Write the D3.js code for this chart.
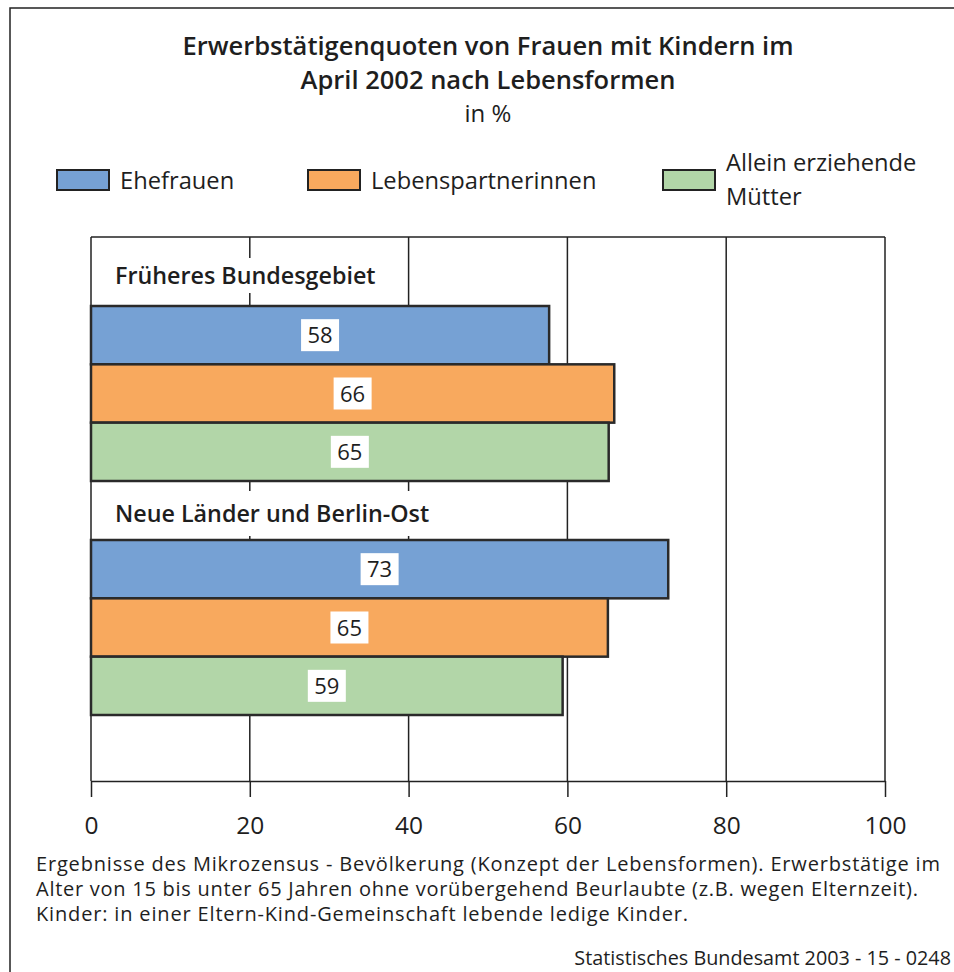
<!DOCTYPE html>
<html><head><meta charset="utf-8">
<script src="https://cdn.jsdelivr.net/npm/d3@7"></script>
<style>body{margin:0;background:#fff}text{font-family:"Open Sans",sans-serif;fill:#1e1e1e}</style>
</head><body><svg id="c" width="954" height="972"></svg>
<script>
const titleLines = ["Erwerbstätigenquoten von Frauen mit Kindern im", "April 2002 nach Lebensformen"];
const subtitle = "in %";
const groups = ["Früheres Bundesgebiet", "Neue Länder und Berlin-Ost"];
const series = ["Ehefrauen", "Lebenspartnerinnen", "Allein erziehende Mütter"];
const ehefrauen = [57.7, 72.7];
const lebenspartnerinnen = [65.9, 65.1];
const alleinErziehende = [65.2, 59.4];
const xTicks = [0, 20, 40, 60, 80, 100];
const colors = ["#76a1d4", "#f8a95e", "#b2d6a8"];
const footnote = ["Ergebnisse des Mikrozensus - Bevölkerung (Konzept der Lebensformen). Erwerbstätige im",
  "Alter von 15 bis unter 65 Jahren ohne vorübergehend Beurlaubte (z.B. wegen Elternzeit).",
  "Kinder: in einer Eltern-Kind-Gemeinschaft lebende ledige Kinder."];
const source = "Statistisches Bundesamt 2003 - 15 - 0248";

const values = [ehefrauen, lebenspartnerinnen, alleinErziehende];
const svg = d3.select("#c");
const plotTop = 237, plotBottom = 781;
const x = d3.scaleLinear().domain([0, 100]).range([91, 885]);
const yGroup = d3.scaleBand().domain(groups).range([247, 715]);
const headerH = 59;
const ySeries = d3.scaleBand().domain(series).range([headerH, yGroup.bandwidth()]);

// outer frame
svg.append("path").attr("d", "M10,972V8H954").attr("fill", "none").attr("stroke", "#222").attr("stroke-width", 1.5);

// title
const t = svg.append("g").attr("text-anchor", "middle");
t.selectAll("text.tl").data(titleLines).join("text").attr("class","tl")
  .attr("x", 488).attr("y", (d, i) => 55 + i * 34).attr("font-size", 25.5).attr("font-weight", 600).text(d => d);
t.append("text").attr("x", 488).attr("y", 122).attr("font-size", 24).text(subtitle);

// legend
const legend = [
  {sx: 57, lines: ["Ehefrauen"]},
  {sx: 308, lines: ["Lebenspartnerinnen"]},
  {sx: 663, lines: ["Allein erziehende", "Mütter"]}
];
legend.forEach((l, i) => {
  svg.append("rect").attr("x", l.sx).attr("y", 170).attr("width", 52).attr("height", 20)
    .attr("fill", colors[i]).attr("stroke", "#222").attr("stroke-width", 2);
  l.lines.forEach((s, j) => svg.append("text").attr("x", l.sx + 63)
    .attr("y", l.lines.length === 1 ? 189 : 171 + j * 34).attr("font-size", 23.7).text(s));
});

// grid
svg.selectAll("line.grid").data(xTicks).join("line").attr("class", "grid")
  .attr("x1", d => x(d)).attr("x2", d => x(d)).attr("y1", plotTop).attr("y2", plotBottom)
  .attr("stroke", "#222").attr("stroke-width", 1.5);
svg.append("line").attr("x1", x(0)).attr("x2", x(100)).attr("y1", plotTop).attr("y2", plotTop).attr("stroke", "#222").attr("stroke-width", 1.5);

// group headers with white background
const gh = svg.selectAll("g.gh").data(groups).join("g").attr("class", "gh");
gh.each(function(g, i) {
  const sel = d3.select(this);
  const yc = yGroup(g) + (i === 0 ? 29 : 33);
  const txt = sel.append("text").attr("x", 115).attr("y", yc + 8).attr("font-size", 23.3).attr("font-weight", 600).text(g);
  const bb = txt.node().getBBox();
  sel.insert("rect", "text").attr("x", bb.x - 4).attr("y", yc - (i === 0 ? 18 : 23)).attr("width", bb.width + 8).attr("height", i === 0 ? 35 : 45).attr("fill", "#fff");
});

// bars
groups.forEach((g, gi) => {
  series.forEach((s, si) => {
    const v = values[si][gi];
    const y0 = yGroup(g) + ySeries(s);
    svg.append("rect").attr("x", x(0)).attr("y", y0).attr("width", x(v) - x(0)).attr("height", ySeries.bandwidth())
      .attr("fill", colors[si]).attr("stroke", "#2a2a2a").attr("stroke-width", 2.5);
    const cx = (x(0) + x(v)) / 2, cy = y0 + ySeries.bandwidth() / 2;
    const lbl = d3.format(".0f")(v);
    const lt = svg.append("text").attr("x", cx).attr("y", cy + 8).attr("text-anchor", "middle").attr("font-size", 22).text(lbl);
    svg.insert("rect", () => lt.node()).attr("x", cx - 19).attr("y", cy - 16).attr("width", 38).attr("height", 32).attr("fill", "#fff");
  });
});

// axis
const ax = svg.append("g").attr("transform", `translate(0,${plotBottom})`)
  .call(d3.axisBottom(x).tickValues(xTicks).tickSize(16).tickPadding(20).tickSizeOuter(0));
ax.select(".domain").attr("stroke", "#222").attr("stroke-width", 1.5);
ax.selectAll(".tick line").attr("stroke", "#222").attr("stroke-width", 1.5);
ax.selectAll(".tick text").attr("font-size", 24.5).attr("font-family", "Open Sans").attr("fill", "#1e1e1e");

// footnote
const fnLen = [904, 882, 652];
svg.selectAll("text.fn").data(footnote).join("text").attr("class", "fn")
  .attr("x", 36).attr("y", (d, i) => 871 + i * 25).attr("font-size", 20)
  .attr("textLength", (d, i) => fnLen[i]).attr("lengthAdjust", "spacing").text(d => d);
svg.append("text").attr("x", 951).attr("y", 965).attr("text-anchor", "end").attr("font-size", 19.8).text(source);
</script></body></html>
